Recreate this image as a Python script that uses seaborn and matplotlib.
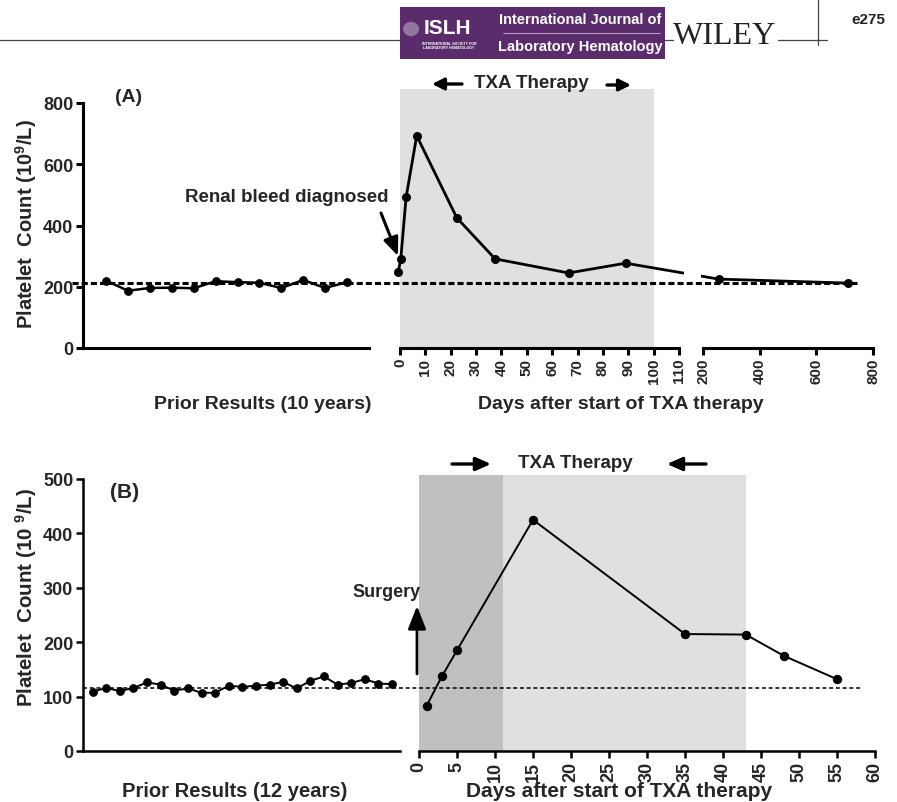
import numpy as np
import matplotlib.pyplot as plt
import seaborn as sns
from matplotlib.patches import Rectangle, Circle
from matplotlib.lines import Line2D

# ---- data ----
# panel A
prior_a = [220, 187, 196, 197, 195, 218, 215, 213, 196, 222, 196, 215]
days_a = [-0.7, 0.3, 2.4, 6.6, 22.4, 37.5, 66.5, 89.0]
counts_a = [249, 290, 492, 693, 425, 291, 245, 277]
days_a_late = [255, 710]
counts_a_late = [225, 212]
baseline_a = 213
txa_a = (0, 100)
ticks_a_mid = list(range(0, 111, 10))
ticks_a_far = [200, 400, 600, 800]

# panel B
prior_b = [109, 116, 110, 116, 126, 122, 111, 115, 107, 107, 120, 118,
           120, 122, 127, 115, 129, 137, 122, 125, 132, 124, 123]
days_b = [1, 3, 5, 15, 35, 43, 48, 55]
counts_b = [83, 137, 185, 425, 215, 214, 175, 132]
baseline_b = 115
txa_b_start = (0, 11)
txa_b = (11, 43)
ticks_b = list(range(0, 61, 5))

sns.set_style("ticks")
plt.rcParams['font.family'] = ['Liberation Sans', 'DejaVu Sans']
plt.rcParams['font.weight'] = 'bold'
plt.rcParams['mathtext.fontset'] = 'custom'
plt.rcParams['mathtext.rm'] = 'Liberation Sans:bold'
plt.rcParams['mathtext.it'] = 'Liberation Sans:bold'
plt.rcParams['mathtext.bf'] = 'Liberation Sans:bold'

W, H = 897, 803
fig = plt.figure(figsize=(W / 100, H / 100), dpi=100)


def rect(l, t, r, b):
    return [l / W, 1 - b / H, (r - l) / W, (b - t) / H]


def fp(x, y):
    return (x / W, 1 - y / H)


def style_axis(ax, lw, tick_fs):
    for s in ax.spines.values():
        s.set_linewidth(lw)
        s.set_color('black')
    ax.tick_params(width=lw, length=5, labelsize=tick_fs, color='black', pad=2)


# ---------------- panel A ----------------
ax_a0 = fig.add_axes(rect(83, 104, 369, 349))
ax_a0.set_zorder(5)
ax_a0.patch.set_visible(False)
sns.lineplot(x=np.arange(len(prior_a)), y=prior_a, marker='o', color='black',
             linewidth=1.8, markersize=5.5, markeredgecolor='black', ax=ax_a0)
ax_a0.set_xlim(-1.05, 12.0)
ax_a0.set_ylim(0, 800)
ax_a0.set_yticks([0, 200, 400, 600, 800])
ax_a0.set_xticks([])
sns.despine(ax=ax_a0)
style_axis(ax_a0, 2.2, 13)
ax_a0.axhline(baseline_a, xmin=-0.038, xmax=2.706, clip_on=False, color='black',
              linewidth=2.2, dashes=(2, 1), zorder=1)

# mid part (0-110 days) and far part (200-800 days) of the broken axis
k1, o1 = 2.536, 400
xl1 = (-2.5, 112)
yl_a = (0, 845)
top_a = 349 - yl_a[1] * 0.30625
ax_a1 = fig.add_axes(rect(o1 + xl1[0] * k1, top_a, o1 + xl1[1] * k1, 349))
k2, o2 = (873 - 703) / 600, 703
xl2 = (193, 800)
ax_a2 = fig.add_axes(rect(o2 + (xl2[0] - 200) * k2, top_a, 873, 349))
for ax, xl in ((ax_a1, xl1), (ax_a2, xl2)):
    ax.set_xlim(*xl)
    ax.set_ylim(*yl_a)
    ax.patch.set_alpha(0)

# connect the two scales across the break
bx, by = ax_a1.transData.inverted().transform(
    ax_a2.transData.transform((days_a_late[0], counts_a_late[0])))
ax_, ay_ = ax_a2.transData.inverted().transform(
    ax_a1.transData.transform((days_a[-1], counts_a[-1])))

ax_a1.axvspan(*txa_a, color='#e0e0e0', linewidth=0, zorder=0)
sns.lineplot(x=days_a + [bx], y=counts_a + [by], color='black', linewidth=2,
             sort=False, ax=ax_a1)
sns.scatterplot(x=days_a, y=counts_a, color='black', s=42, linewidth=0,
                ax=ax_a1, clip_on=False, zorder=5)
sns.lineplot(x=[ax_] + days_a_late, y=[ay_] + counts_a_late, color='black',
             linewidth=2, sort=False, ax=ax_a2)
sns.scatterplot(x=days_a_late, y=counts_a_late, color='black', s=42,
                linewidth=0, ax=ax_a2, zorder=5)

for ax, xl, ticks in ((ax_a1, xl1, ticks_a_mid), (ax_a2, xl2, ticks_a_far)):
    ax.set_xlim(*xl)
    ax.set_ylim(*yl_a)
    sns.despine(ax=ax, left=True)
    ax.set_yticks([])
    ax.set_xticks(ticks)
    ax.set_xticklabels([str(t) for t in ticks], rotation=90)
    ax.spines['bottom'].set_bounds(ticks[0], ticks[-1])
    style_axis(ax, 2.2, 11)
    ax.set_xlabel('')
    ax.set_ylabel('')

# ---------------- panel B ----------------
ax_b0 = fig.add_axes(rect(83, 480, 400, 752))
ax_b0.set_zorder(5)
ax_b0.patch.set_visible(False)
sns.lineplot(x=np.arange(len(prior_b)), y=prior_b, marker='o', color='black',
             linewidth=1.4, markersize=5.5, markeredgecolor='black', ax=ax_b0)
ax_b0.set_xlim(-0.71, 22.59)
ax_b0.set_ylim(0, 500)
ax_b0.set_yticks([0, 100, 200, 300, 400, 500])
ax_b0.set_xticks([])
sns.despine(ax=ax_b0)
style_axis(ax_b0, 1.8, 13)
ax_b0.axhline(baseline_b, xmin=0.0, xmax=2.451, clip_on=False, color='black',
              linewidth=1.1, dashes=(2.6, 1.8), zorder=1)

yl_b = (0, 507)
top_b = 752 - yl_b[1] * 0.544
ax_b1 = fig.add_axes(rect(419, top_b, 875, 752))
ax_b1.patch.set_alpha(0)
ax_b1.axvspan(*txa_b_start, color='#c0c0c0', linewidth=0, zorder=0)
ax_b1.axvspan(*txa_b, color='#e0e0e0', linewidth=0, zorder=0)
sns.lineplot(x=days_b, y=counts_b, marker='o', color='black', linewidth=1.4,
             markersize=6, markeredgecolor='black', ax=ax_b1)
ax_b1.set_xlim(0, 60)
ax_b1.set_ylim(*yl_b)
sns.despine(ax=ax_b1, left=True)
ax_b1.set_yticks([])
ax_b1.set_xticks(ticks_b)
ax_b1.set_xticklabels([str(t) for t in ticks_b], rotation=90)
style_axis(ax_b1, 1.8, 13)

# ---------------- texts and arrows ----------------
fig.text(*fp(129, 97), '(A)', fontsize=14, ha='center', va='center')
fig.text(*fp(125, 493), '(B)', fontsize=15, ha='center', va='center')
fig.text(*fp(26, 224), 'Platelet  Count (10$^{9}$/L)', fontsize=14.5,
         rotation=90, ha='center', va='center')
fig.text(*fp(26, 597), 'Platelet  Count (10 $^{9}$/L)', fontsize=14.8,
         rotation=90, ha='center', va='center')
fig.text(*fp(263, 405), 'Prior Results (10 years)', fontsize=14, ha='center', va='center')
fig.text(*fp(621, 405), 'Days after start of TXA therapy', fontsize=14,
         ha='center', va='center')
fig.text(*fp(235, 792), 'Prior Results (12 years)', fontsize=14.5, ha='center', va='center')
fig.text(*fp(619, 792), 'Days after start of TXA therapy', fontsize=15,
         ha='center', va='center')
fig.text(*fp(531, 84), 'TXA Therapy', fontsize=13.5, ha='center', va='center')
fig.text(*fp(575, 464), 'TXA Therapy', fontsize=13.5, ha='center', va='center')
fig.text(*fp(287, 198), 'Renal bleed diagnosed', fontsize=13.5, ha='center', va='center')
fig.text(*fp(387, 593), 'Surgery', fontsize=13, ha='center', va='center')


def arrow(x0, y0, x1, y1, lw=2.2, hl=0.9, hw=0.5):
    fig.add_artist(plt.Annotation(
        '', xy=fp(x1, y1), xytext=fp(x0, y0), xycoords='figure fraction',
        textcoords='figure fraction',
        arrowprops=dict(arrowstyle=f'-|>,head_length={hl},head_width={hw}',
                        color='black', lw=lw, shrinkA=0, shrinkB=0)))


arrow(462, 85, 432, 85, lw=2.4, hl=0.7, hw=0.35)
arrow(607, 86, 631, 86, lw=2.4, hl=0.7, hw=0.35)
arrow(452, 465, 491, 465, lw=2.4, hl=0.9, hw=0.4)
arrow(706, 465, 667, 465, lw=2.4, hl=0.9, hw=0.4)
arrow(381, 214, 398, 257, lw=2.2, hl=1.1, hw=0.45)
arrow(417, 675, 417, 607, lw=2.0, hl=1.4, hw=0.55)

# ---------------- journal header ----------------
fig.add_artist(Line2D([0, 400 / W], [1 - 41 / H] * 2, color='#444444', lw=0.9))
fig.add_artist(Line2D([665 / W, 673 / W], [1 - 41 / H] * 2, color='#444444', lw=0.9))
fig.add_artist(Line2D([778 / W, 827 / W], [1 - 41 / H] * 2, color='#444444', lw=0.9))
fig.add_artist(Line2D([818 / W, 818 / W], [1, 1 - 46 / H], color='#444444', lw=0.9))
fig.add_artist(Rectangle(fp(400, 60), 265 / W, 52 / H, color='#5b2c6c', lw=0))
fig.add_artist(Circle(fp(411, 30), 8 / W, color='#b9a6c2', lw=0, alpha=0.6))
fig.text(*fp(447, 29), 'ISLH', fontsize=15, color='white', ha='center', va='center')
fig.text(*fp(449, 46), 'INTERNATIONAL SOCIETY FOR\nLABORATORY HEMATOLOGY', fontsize=2.6,
         color='white', ha='center', va='center', linespacing=1.0)
fig.text(*fp(580, 20), 'International Journal of', fontsize=10.5, color='white',
         ha='center', va='center', family=['Liberation Sans Narrow', 'Liberation Sans'])
fig.text(*fp(580, 47), 'Laboratory Hematology', fontsize=10.5, color='white',
         ha='center', va='center', family=['Liberation Sans Narrow', 'Liberation Sans'])
fig.add_artist(Line2D([503 / W, 660 / W], [1 - 34 / H] * 2, color='#c9b8d0', lw=0.6))
fig.text(*fp(725, 36), 'WILEY', fontsize=23, color='#222222', ha='center', va='center',
         family=['Liberation Serif'], fontweight='normal')
fig.text(*fp(868, 20), 'e275', fontsize=11, color='#222222', ha='center', va='center')

fig.savefig('out.png', dpi=100)
